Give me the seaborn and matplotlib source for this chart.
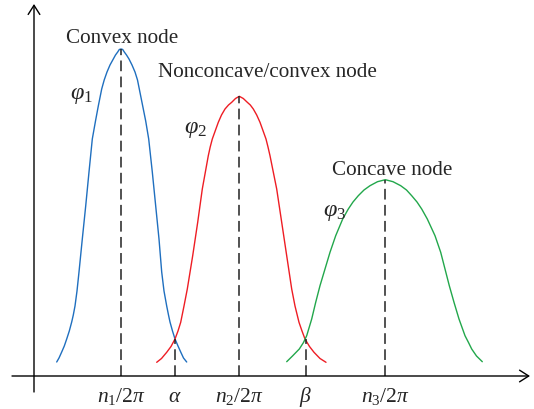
import matplotlib
matplotlib.use("Agg")
import matplotlib.pyplot as plt
import seaborn as sns
import pandas as pd

sns.set_theme(style="white")
plt.rcParams["font.family"] = ["Liberation Serif", "DejaVu Serif"]
plt.rcParams["mathtext.fontset"] = "custom"
plt.rcParams["mathtext.rm"] = "Liberation Serif"
plt.rcParams["mathtext.it"] = "Liberation Serif:italic"

# Membership curves: position along the axis and height above it (arbitrary units)
phi1_x = [22.7, 25.0, 27.7, 30.3, 32.7, 35.3, 37.7, 39.3, 41.0, 43.0, 45.0, 48.3, 51.7, 55.0, 58.3,
          61.5, 64.3, 67.7, 70.2, 73.0, 76.0, 79.3, 81.5, 83.7, 85.3, 87.0,
          88.7, 90.3, 92.5, 95.0, 98.0, 101.0, 103.5, 105.3, 108.7, 111.7, 114.7, 118.3, 121.7,
          125.0, 127.7, 130.0, 132.7, 134.5, 136.0, 138.5, 141.0, 144.0, 146.7, 149.5, 152.7]
phi1_y = [14, 18, 24, 30, 37, 45, 54, 61, 70, 85, 104, 137, 170, 204, 237,
          255, 270, 287, 296, 304, 311, 317, 321, 324, 326.5, 327,
          326.5, 324, 321, 317, 311, 304, 296, 287, 270, 255, 237, 204, 170,
          137, 104, 85, 70, 61, 54, 45, 37, 30, 24, 18, 14]

phi2_x = [122.7, 127.5, 132.7, 137.0, 141.0, 144.0, 146.7, 150.0, 153.3, 158.7, 163.7, 168.3, 174.3,
          176.2, 178.3, 184.3, 187.5, 191.0, 194.5, 197.7, 201.5, 205.3,
          209.3, 213.3, 216.3, 219.3, 222.7, 226.0, 232.0, 234.0, 236.0, 242.7, 247.7, 252.7, 257.7,
          261.0, 265.0, 268.0, 271.0, 275.5, 280.0, 286.0, 292.0]
phi2_y = [13.7, 17.5, 23.7, 29.5, 37, 45, 53.7, 70, 87, 120.3, 153.7, 187, 220.3,
          229, 237, 253.7, 261, 267, 271, 273.7, 277.5, 279.7,
          277.5, 273.7, 271, 267, 261, 253.7, 237, 229, 220.3, 187, 153.7, 120.3, 87,
          70, 53.7, 45, 37, 29.5, 23.7, 17.5, 13.7]

phi3_x = [252.7, 258.5, 265.3, 269.5, 272.7, 277.7, 281.7, 286.0, 291.0, 296.0, 301.7, 308.7, 314.3,
          319.0, 324.3, 330.0, 336.0, 343.5, 351.3,
          359.0, 366.7, 372.5, 377.7, 383.0, 387.7, 393.3, 401.0, 406.7, 411.0, 415.3, 420.0, 425.0,
          431.0, 434.5, 437.7, 442.5, 448.3]
phi3_y = [14.3, 20, 27, 33.5, 40.3, 57, 73.7, 90.3, 107, 123.7, 140.3, 157, 167,
          174, 180.3, 186, 190.3, 194.3, 196.3,
          194.3, 190.3, 186, 180.3, 174, 167, 157, 140.3, 123.7, 107, 90.3, 73.7, 57,
          40.3, 33.5, 27, 20, 14.3]

# Guide lines: peak centres and crossing points
guide_x = [87.0, 140.5, 205.3, 272.0, 351.3]
guide_top = [327, 37, 279.7, 37, 196.3]
guide_labels = [r"$n_1/2\pi$", r"$\alpha$", r"$n_2/2\pi$", r"$\beta$", r"$n_3/2\pi$"]

curve_names = [r"$\varphi_1$", r"$\varphi_2$", r"$\varphi_3$"]
node_names = ["Convex node", "Nonconcave/convex node", "Concave node"]
colors = ["#1f6fbf", "#ee1d24", "#22a74b"]

fig = plt.figure(figsize=(5.34, 4.10), dpi=100)
ax = fig.add_axes([0, 0, 1, 1])
ax.set_xlim(-34, 500)
ax.set_ylim(-33, 377)
ax.axis("off")

for xs, ys, c in zip([phi1_x, phi2_x, phi3_x], [phi1_y, phi2_y, phi3_y], colors):
    df = pd.DataFrame({"x": xs, "y": ys})
    sns.lineplot(data=df, x="x", y="y", ax=ax, color=c, lw=1.0, sort=False,
                 estimator=None, solid_joinstyle="round")

for gx, gt in zip(guide_x, guide_top):
    ax.plot([gx, gx], [0, gt], color="#222222", lw=1.1, dashes=(7, 3.5))

# Coordinate axes with open arrowheads
arrow = dict(arrowstyle="->,head_length=0.55,head_width=0.35", color="black", lw=1.0,
             shrinkA=0, shrinkB=0)
ax.annotate("", xy=(496, 0), xytext=(-22, 0), arrowprops=arrow)
ax.annotate("", xy=(0, 372), xytext=(0, -16), arrowprops=arrow)

for gx, lab in zip(guide_x, guide_labels):
    ax.text(gx, -25, lab, ha="center", va="baseline", fontsize=15.5)

ax.text(88.5, 334, node_names[0], ha="center", va="baseline", fontsize=15.2)
ax.text(233, 300, node_names[1], ha="center", va="baseline", fontsize=15.2)
ax.text(358.5, 202, node_names[2], ha="center", va="baseline", fontsize=15.2)

ax.text(47, 281, curve_names[0], ha="center", va="center", fontsize=17.5)
ax.text(162, 247, curve_names[1], ha="center", va="center", fontsize=17.5)
ax.text(301, 164, curve_names[2], ha="center", va="center", fontsize=17.5)

fig.savefig("out.png", dpi=100)
